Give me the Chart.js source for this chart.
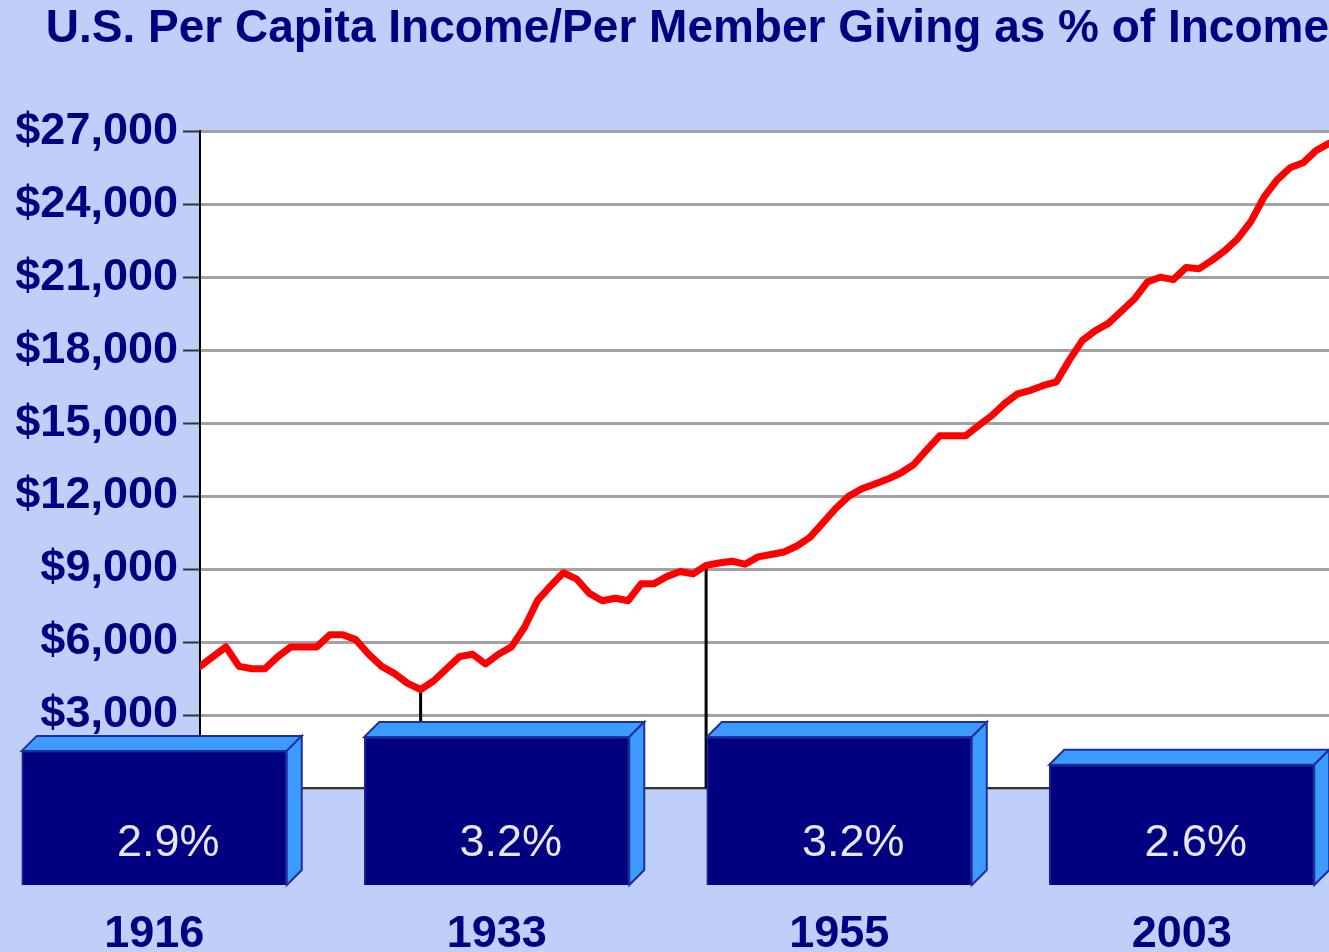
<!DOCTYPE html>
<html>
<head>
<meta charset="utf-8">
<script src="https://cdn.jsdelivr.net/npm/chart.js@4.4.0/dist/chart.umd.min.js"></script>
<style>
  html, body { margin: 0; padding: 0; overflow: hidden; width: 1329px; height: 952px; background: #bfcffa; }
  #income { position: absolute; left: 0; top: 0; }
  #boxes { position: absolute; left: -17px; top: 700px; }
</style>
</head>
<body>
<canvas id="income" width="1329" height="952"></canvas>
<canvas id="boxes" width="1370" height="285"></canvas>
<script>
// per capita income, one value per year 1916..2003
var years = [];
for (var yr = 1916; yr <= 2003; yr++) years.push(yr);
var income = [
  5000, 5400, 5800, 5000, 4900, 4900, 5400, 5800, 5800, 5800,   // 1916-1925
  6300, 6300, 6100, 5500, 5000, 4700, 4300, 4050, 4400, 4900,   // 1926-1935
  5400, 5500, 5100, 5500, 5800, 6600, 7700, 8300, 8850, 8600,   // 1936-1945
  8000, 7700, 7800, 7700, 8400, 8400, 8700, 8900, 8800, 9150,   // 1946-1955
  9250, 9320, 9200, 9500, 9600, 9700, 9950, 10300, 10900, 11500, // 1956-1965
  12000, 12300, 12500, 12700, 12950, 13300, 13900, 14480, 14480, 14480, // 1966-1975
  14900, 15300, 15800, 16200, 16350, 16550, 16700, 17600, 18400, 18800, // 1976-1985
  19100, 19600, 20100, 20800, 21000, 20900, 21400, 21350, 21700, 22100, // 1986-1995
  22600, 23300, 24300, 25000, 25500, 25700, 26200, 26500                // 1996-2003
];

// giving as % of income for the highlighted years
var boxYears = [1916, 1933, 1955, 2003];
var givingPct = [2.9, 3.2, 3.2, 2.6];

var FONT = "'Liberation Sans', Arial, sans-serif";
var NAVY = '#000080';

// white plot area + black drop lines at the highlighted years
var plotDeco = {
  id: 'plotDeco',
  beforeDraw: function (chart) {
    var a = chart.chartArea, ctx = chart.ctx;
    ctx.save();
    ctx.fillStyle = '#ffffff';
    ctx.fillRect(a.left, a.top, a.right - a.left, a.bottom - a.top);
    ctx.restore();
  },
  beforeDatasetsDraw: function (chart) {
    var xs = chart.scales.x, ys = chart.scales.y, ctx = chart.ctx;
    ctx.save();
    ctx.strokeStyle = '#000';
    ctx.lineWidth = 3;
    boxYears.forEach(function (y) {
      if (y <= xs.min || y >= xs.max) return;
      var px = xs.getPixelForValue(y);
      var py = ys.getPixelForValue(income[years.indexOf(y)]);
      ctx.beginPath();
      ctx.moveTo(px, py);
      ctx.lineTo(px, chart.chartArea.bottom);
      ctx.stroke();
    });
    ctx.restore();
  }
};

new Chart(document.getElementById('income'), {
  type: 'line',
  data: {
    datasets: [{
      data: years.map(function (y, i) { return { x: y, y: income[i] }; }),
      borderColor: '#ff0000',
      borderWidth: 7,
      pointRadius: 0,
      tension: 0,
      borderJoinStyle: 'round',
      borderCapStyle: 'round'
    }]
  },
  options: {
    responsive: false,
    animation: false,
    events: [],
    layout: { padding: { left: 0, right: 0, top: 0, bottom: 164 } },
    plugins: {
      legend: { display: false },
      tooltip: { enabled: false },
      title: {
        display: true,
        text: 'U.S. Per Capita Income/Per Member Giving as % of Income',
        align: 'end',
        color: NAVY,
        font: { family: FONT, size: 46, weight: 'bold' },
        padding: { top: 2, bottom: 74 }
      }
    },
    scales: {
      x: {
        type: 'linear',
        min: 1916,
        max: 2003,
        ticks: { display: false },
        grid: { display: false, drawTicks: false },
        border: { color: '#333', width: 2 }
      },
      y: {
        min: 0,
        max: 27000,
        ticks: {
          stepSize: 3000,
          color: NAVY,
          padding: 5,
          font: { family: FONT, size: 45, weight: 'bold' },
          callback: function (v) { return v === 0 ? '' : '$' + v.toLocaleString('en-US'); }
        },
        grid: { color: '#a2a2a2', lineWidth: 3, tickColor: '#333', tickWidth: 2, tickLength: 17 },
        border: { color: '#000', width: 2 },
        afterFit: function (s) { s.width = 200; }
      }
    }
  },
  plugins: [plotDeco]
});

// 3D faces and the percentage text on each box
var box3d = {
  id: 'box3d',
  afterDatasetsDraw: function (chart) {
    var ctx = chart.ctx, d = 15;
    var meta = chart.getDatasetMeta(0);
    ctx.save();
    meta.data.forEach(function (bar, i) {
      var x0 = bar.x - bar.width / 2, x1 = bar.x + bar.width / 2;
      var top = bar.y, base = bar.base;
      ctx.fillStyle = '#3d9bff';
      ctx.strokeStyle = '#1e2f9c';
      ctx.lineWidth = 2;
      ctx.beginPath();
      ctx.moveTo(x0, top);
      ctx.lineTo(x0 + d, top - d);
      ctx.lineTo(x1 + d, top - d);
      ctx.lineTo(x1, top);
      ctx.closePath();
      ctx.fill();
      ctx.stroke();
      ctx.beginPath();
      ctx.moveTo(x1, top);
      ctx.lineTo(x1 + d, top - d);
      ctx.lineTo(x1 + d, base - d);
      ctx.lineTo(x1, base);
      ctx.closePath();
      ctx.fill();
      ctx.stroke();

      ctx.fillStyle = '#e6e6f4';
      ctx.font = '45px ' + FONT;
      ctx.textAlign = 'center';
      ctx.textBaseline = 'middle';
      ctx.fillText(givingPct[i].toFixed(1) + '%', bar.x + 14, base - 41);
    });
    ctx.restore();
  }
};

new Chart(document.getElementById('boxes'), {
  type: 'bar',
  data: {
    labels: boxYears.map(String),
    datasets: [{
      data: givingPct,
      backgroundColor: NAVY,
      borderColor: '#1b2290',
      borderWidth: 2,
      barThickness: 265
    }]
  },
  options: {
    responsive: false,
    animation: false,
    events: [],
    layout: { padding: 0 },
    plugins: { legend: { display: false }, tooltip: { enabled: false } },
    scales: {
      x: {
        grid: { display: false, drawTicks: false },
        border: { display: false },
        ticks: { color: NAVY, padding: 23, maxRotation: 0, font: { family: FONT, size: 45, weight: 'bold' } }
      },
      y: { display: false, min: 0, max: 4 }
    }
  },
  plugins: [box3d]
});
</script>
</body>
</html>
